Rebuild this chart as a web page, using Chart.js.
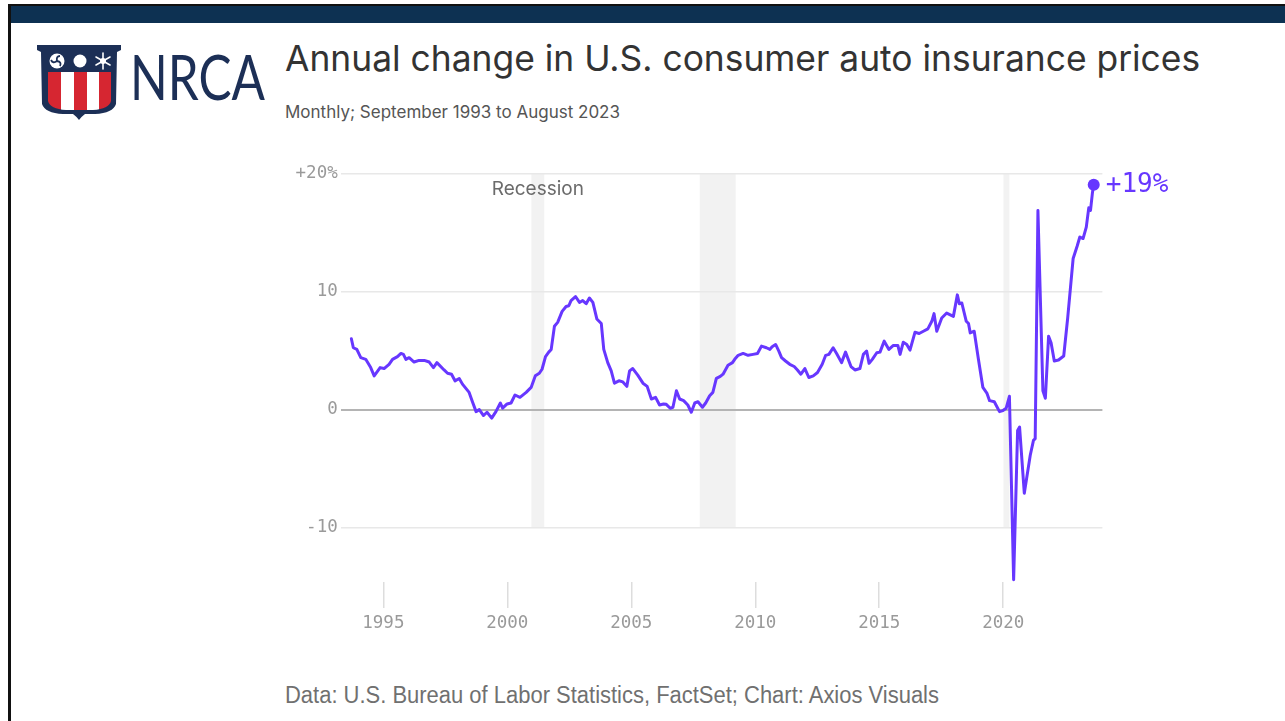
<!DOCTYPE html>
<html>
<head>
<meta charset="utf-8">
<script src="https://cdn.jsdelivr.net/npm/chart.js@4.4.0/dist/chart.umd.min.js"></script>
<style>
  body { margin: 0; width: 1285px; height: 721px; background: #fff; position: relative; overflow: hidden; font-family: Inter, "Noto Sans", sans-serif; }
  #frame { position: absolute; left: 8px; top: 4px; right: -4px; bottom: -4px; border-left: 3px solid #111; border-top: 2px solid #111; }
  #bar { position: absolute; left: 11px; top: 6px; right: 0; height: 17px; background: #0d3152; }
  #title { position: absolute; left: 285px; top: 41px; font-size: 35.4px; line-height: 35px; color: #333; white-space: nowrap; }
  #subtitle { position: absolute; left: 285px; top: 104px; font-size: 17px; line-height: 17px; color: #555; white-space: nowrap; }
  #footer { position: absolute; left: 285px; top: 684px; font-family: "Liberation Sans", Arial, sans-serif; font-size: 23px; line-height: 23px; color: #707070; white-space: nowrap; transform: scaleX(0.955); transform-origin: left top; }
  #chartBox { position: absolute; left: 280px; top: 160px; width: 900px; height: 470px; }
</style>
</head>
<body>
<div id="frame"></div>
<div id="bar"></div>

<svg width="300" height="130" style="position:absolute;left:0;top:0">
  <defs>
    <clipPath id="stripeClip">
      <path d="M48,72 L111,72 L111,101 Q109,109 93,110 L66,110 Q50,109 48,101 Z"/>
    </clipPath>
  </defs>
  <path d="M37,45 L121,45 L121,50 L117,52 L116,104 Q113,113 95,114 L85,114 Q81,117 79,120 Q77,117 73,114 L63,114 Q45,113 42,104 L41,52 L37,50 Z" fill="#1c2f56"/>
  <g clip-path="url(#stripeClip)">
    <rect x="48" y="72" width="13" height="40" fill="#d62631"/>
    <rect x="61" y="72" width="13" height="40" fill="#fff"/>
    <rect x="74" y="72" width="13" height="40" fill="#d62631"/>
    <rect x="87" y="72" width="12" height="40" fill="#fff"/>
    <rect x="99" y="72" width="12" height="40" fill="#d62631"/>
  </g>
  <circle cx="57" cy="61" r="7.5" fill="#fff"/>
  <path d="M57,61 q-1,-5 3,-5 M57,61 q5,1 3,5 M57,61 q-4,3 -6,-1" stroke="#1c2f56" stroke-width="1.8" fill="none"/>
  <circle cx="80" cy="61" r="6.5" fill="#fff"/>
  <g stroke="#fff" stroke-width="1.6" stroke-linecap="round">
    <line x1="103" y1="53" x2="103" y2="69"/>
    <line x1="96" y1="57" x2="110" y2="65"/>
    <line x1="96" y1="65" x2="110" y2="57"/>
  </g>
  <circle cx="103" cy="61" r="3" fill="#fff"/>
  <text x="130" y="100" font-family="Lato, 'Open Sans', sans-serif" font-weight="400" font-size="62" fill="#1c2f56" textLength="135" lengthAdjust="spacingAndGlyphs">NRCA</text>
</svg>

<div id="title">Annual change in U.S. consumer auto insurance prices</div>
<div id="subtitle">Monthly; September 1993 to August 2023</div>
<div id="chartBox"><canvas id="autoChart"></canvas></div>
<div id="footer">Data: U.S. Bureau of Labor Statistics, FactSet; Chart: Axios Visuals</div>

<script>
// Readings taken off the original line (decimal year, % change from a year earlier)
const dateYears = [
  1993.71, 1993.79, 1993.93, 1994.09, 1994.29, 1994.49, 1994.63, 1994.87, 1995.03, 1995.23,
  1995.37, 1995.57, 1995.71, 1995.81, 1995.91, 1996.04, 1996.24, 1996.44, 1996.65, 1996.85,
  1997.02, 1997.16, 1997.45, 1997.59, 1997.75, 1997.89, 1998.06, 1998.19, 1998.46, 1998.6,
  1998.74, 1998.87, 1999.04, 1999.18, 1999.37, 1999.54, 1999.72, 1999.81, 1999.99, 2000.15,
  2000.31, 2000.51, 2000.76, 2000.96, 2001.13, 2001.29,
  2001.4, 2001.54, 2001.67, 2001.77, 2001.9, 2002.03, 2002.21, 2002.37, 2002.48, 2002.57,
  2002.75, 2002.91, 2003.04, 2003.18, 2003.31, 2003.45, 2003.61, 2003.79, 2003.89, 2004.05,
  2004.19, 2004.32, 2004.5, 2004.66, 2004.82, 2004.93, 2005.06, 2005.26, 2005.47, 2005.64,
  2005.81, 2005.98, 2006.14, 2006.3, 2006.41, 2006.57, 2006.68, 2006.82, 2006.95, 2007.11,
  2007.28, 2007.42, 2007.56, 2007.69, 2007.87, 2008.0, 2008.16, 2008.29, 2008.43, 2008.59,
  2008.7, 2008.9, 2009.08,
  2009.17, 2009.31, 2009.51, 2009.71, 2009.91, 2010.09, 2010.25, 2010.45, 2010.59, 2010.68,
  2010.82, 2010.95, 2011.06, 2011.22, 2011.39, 2011.57, 2011.7, 2011.84, 2012.0, 2012.16,
  2012.34, 2012.51, 2012.7, 2012.84, 2012.97, 2013.14, 2013.28, 2013.48, 2013.64, 2013.86,
  2014.02, 2014.22, 2014.36, 2014.49, 2014.59, 2014.72, 2014.9, 2015.03, 2015.2, 2015.39,
  2015.57, 2015.75, 2015.84, 2015.97, 2016.11, 2016.24, 2016.44, 2016.61, 2016.78, 2016.96,
  2017.12, 2017.21, 2017.32, 2017.52, 2017.72, 2017.99, 2018.15, 2018.23, 2018.33, 2018.51,
  2018.6, 2018.67, 2018.83, 2019.0, 2019.18, 2019.34, 2019.45, 2019.64, 2019.85, 2019.99,
  2020.12, 2020.25, 2020.42, 2020.58, 2020.66, 2020.85, 2021.09, 2021.22, 2021.29, 2021.4,
  2021.6, 2021.7, 2021.83, 2021.93, 2022.06, 2022.23, 2022.44, 2022.6, 2022.82,
  2022.98, 2023.09, 2023.22, 2023.35, 2023.45, 2023.52, 2023.6, 2023.65
];
const changePct = [
  6.0, 5.24, 5.1, 4.4, 4.26, 3.56, 2.86, 3.56, 3.48, 3.84,
  4.26, 4.49, 4.76, 4.68, 4.26, 4.4, 4.03, 4.17, 4.17, 4.03,
  3.56, 3.98, 3.36, 3.08, 3.0, 2.44, 2.64, 2.16, 1.46, 0.62,
  -0.17, 0.0, -0.5, -0.22, -0.72, -0.17, 0.56, 0.12, 0.48, 0.56,
  1.24, 1.04, 1.46, 1.88, 2.86, 3.08,
  3.42, 4.49, 4.87, 5.1, 7.06, 7.39, 8.32, 8.74, 8.8, 9.24,
  9.58, 9.08, 9.24, 8.97, 9.45, 9.08, 7.68, 7.29, 5.1, 3.98,
  3.28, 2.24, 2.44, 2.35, 1.97, 3.28, 3.48, 2.92, 2.24, 1.97,
  0.9, 1.04, 0.39, 0.48, 0.45, 0.12, 0.2, 1.6, 0.9, 0.76,
  0.39, -0.22, 0.56, 0.67, 0.2, 0.56, 1.18, 1.46, 2.64, 2.81,
  3.0, 3.76, 3.98,
  4.26, 4.6, 4.76, 4.6, 4.68, 4.76, 5.38, 5.24, 5.1, 5.33,
  5.52, 4.96, 4.4, 4.12, 3.84, 3.65, 3.36, 3.0, 3.48, 2.72,
  2.86, 3.14, 3.84, 4.6, 4.68, 5.24, 4.76, 3.98, 4.87, 3.65,
  3.36, 3.48, 4.68, 4.96, 3.92, 4.26, 4.82, 4.87, 5.8, 5.1,
  5.44, 5.44, 4.68, 5.71, 5.52, 5.04, 6.55, 6.45, 6.64, 6.84,
  7.48, 8.13, 6.64, 7.76, 8.18, 7.9, 9.72, 8.97, 9.03, 7.48,
  7.29, 6.5, 6.64, 4.26, 1.88, 1.4, 0.76, 0.67, -0.17, -0.08,
  0.12, 1.13, -14.4, -1.76, -1.48, -7.08, -3.86, -2.6, -2.46, 16.87,
  1.6, 0.96, 6.22, 5.66, 4.12, 4.2, 4.54, 7.76, 12.8,
  13.84, 14.62, 14.49, 15.46, 17.09, 16.87, 18.4, 19.05
];

const xTickYears = [1995, 2000, 2005, 2010, 2015, 2020];
const yTickValues = [-10, 0, 10, 20];
const yTickLabels = ['-10', '0', '10', '+20%'];

// Recession shading (start / end, decimal years)
const recessionStarts = [2000.97, 2007.76, 2020.01];
const recessionEnds = [2001.49, 2009.21, 2020.25];
const recessionLabel = 'Recession';
const endLabel = '+19%';

const lineColor = '#6737ff';

const points = dateYears.map((year, i) => ({ x: year, y: changePct[i] }));

// Grey recession bands, drawn under the grid and the line
const recessionBands = {
  id: 'recessionBands',
  beforeDraw(chart) {
    const { ctx, scales } = chart;
    const top = scales.y.getPixelForValue(20);
    const bottom = scales.y.getPixelForValue(-10);
    ctx.save();
    ctx.fillStyle = '#f2f2f2';
    recessionStarts.forEach((start, i) => {
      const left = scales.x.getPixelForValue(start);
      const right = scales.x.getPixelForValue(recessionEnds[i]);
      ctx.fillRect(left, top, right - left, bottom - top);
    });
    ctx.fillStyle = '#6b6b6b';
    ctx.font = '19px Inter, sans-serif';
    ctx.textAlign = 'center';
    ctx.textBaseline = 'middle';
    const mid = (recessionStarts[0] + recessionEnds[0]) / 2;
    ctx.fillText(recessionLabel, scales.x.getPixelForValue(mid), top + 16);
    ctx.restore();
  }
};

// "+19%" next to the last point
const lastValueLabel = {
  id: 'lastValueLabel',
  afterDatasetsDraw(chart) {
    const meta = chart.getDatasetMeta(0);
    const last = meta.data[meta.data.length - 1];
    const ctx = chart.ctx;
    ctx.save();
    ctx.fillStyle = lineColor;
    ctx.font = '26px "DejaVu Sans Mono", monospace';
    ctx.textAlign = 'left';
    ctx.textBaseline = 'middle';
    ctx.fillText(endLabel, last.x + 12, last.y + 1);
    ctx.restore();
  }
};

const ctx = document.getElementById('autoChart').getContext('2d');
const autoChart = new Chart(ctx, {
  type: 'line',
  data: {
    datasets: [{
      data: points,
      borderColor: lineColor,
      borderWidth: 3,
      borderJoinStyle: 'round',
      borderCapStyle: 'round',
      tension: 0,
      pointRadius: c => c.dataIndex === points.length - 1 ? 6 : 0,
      pointHoverRadius: 0,
      pointBackgroundColor: lineColor,
      pointBorderWidth: 0,
      clip: 10
    }]
  },
  options: {
    responsive: true,
    maintainAspectRatio: false,
    animation: false,
    events: [],
    layout: { padding: { top: 13, right: 77.6, left: 0, bottom: 0 } },
    plugins: {
      legend: { display: false },
      tooltip: { enabled: false }
    },
    scales: {
      x: {
        type: 'linear',
        min: 1993.28,
        max: 2024,
        afterBuildTicks: s => { s.ticks = xTickYears.map(v => ({ value: v })); },
        afterFit: s => { s.height = 48; },
        border: { display: false },
        grid: { drawOnChartArea: false, drawTicks: true, tickLength: 26, color: '#dddddd', lineWidth: 1.5 },
        ticks: {
          autoSkip: false,
          maxRotation: 0,
          padding: 5,
          color: '#9a9a9a',
          font: { family: '"DejaVu Sans Mono", monospace', size: 17.5 },
          callback: v => String(v)
        }
      },
      y: {
        min: -14.6,
        max: 20,
        afterBuildTicks: s => { s.ticks = yTickValues.map(v => ({ value: v })); },
        afterFit: s => { s.width = 60.7; },
        border: { display: false },
        grid: {
          drawTicks: false,
          color: c => c.tick.value === 0 ? '#b4b4b4' : '#e8e8e8',
          lineWidth: c => c.tick.value === 0 ? 2 : 1.5
        },
        ticks: {
          padding: 3,
          color: '#9a9a9a',
          font: { family: '"DejaVu Sans Mono", monospace', size: 17.5 },
          callback: v => yTickLabels[yTickValues.indexOf(v)]
        }
      }
    }
  },
  plugins: [recessionBands, lastValueLabel]
});
</script>
</body>
</html>
